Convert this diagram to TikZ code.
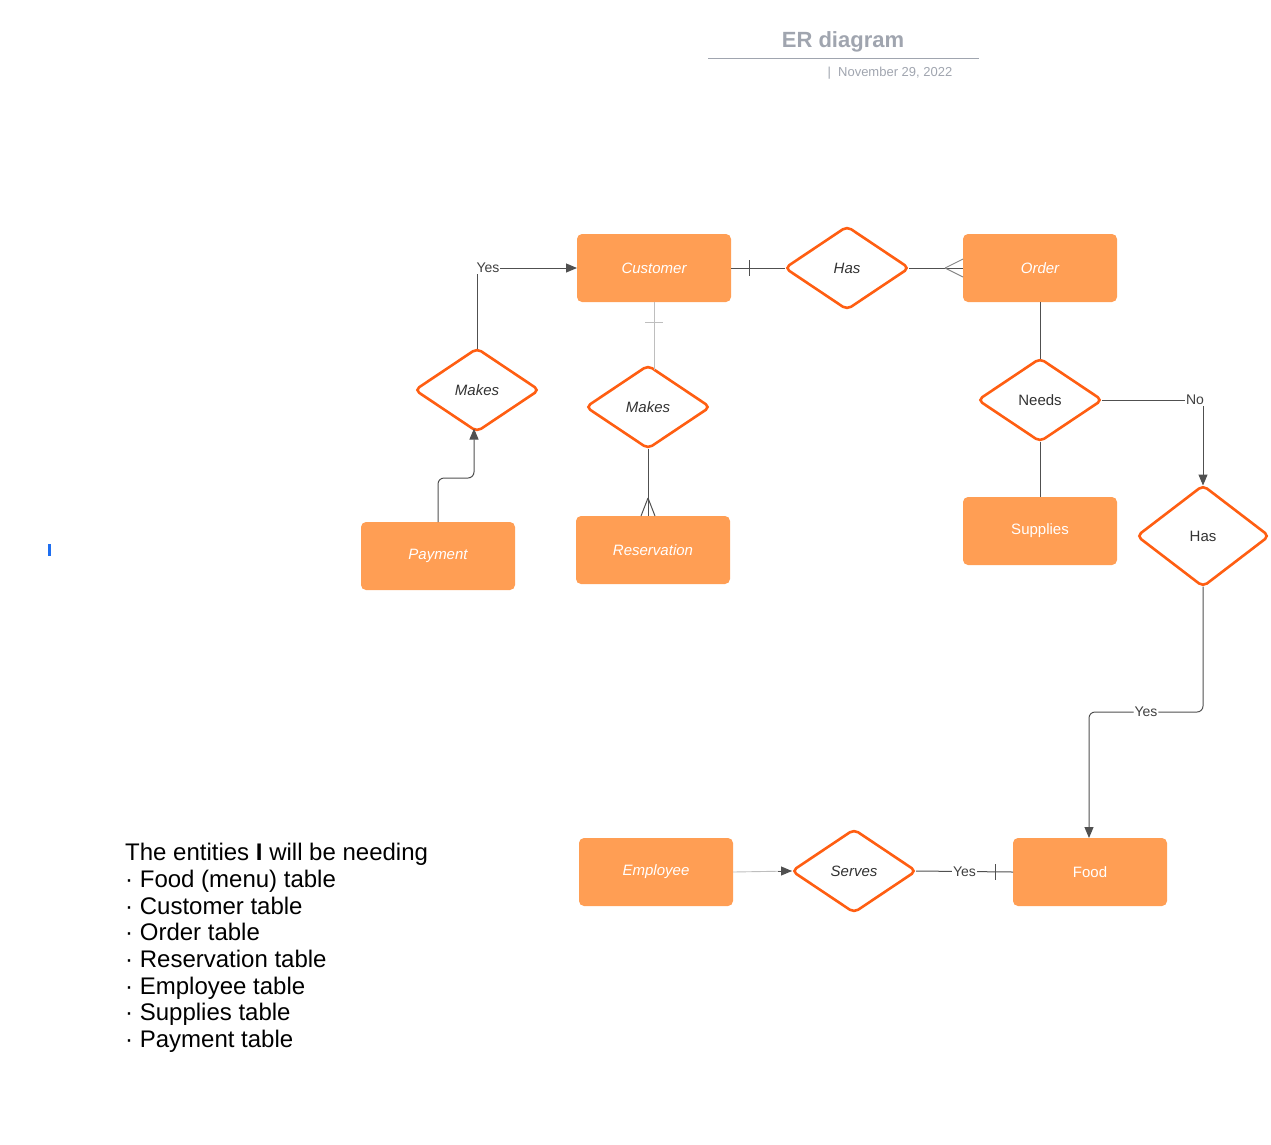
\documentclass[tikz,border=0pt]{standalone}
\usepackage{fontspec}
\setmainfont{Liberation Sans}
\usetikzlibrary{arrows.meta,shapes.geometric}
\definecolor{entcol}{RGB}{255,158,84}
\definecolor{relcol}{RGB}{255,94,18}
\definecolor{linecol}{RGB}{80,80,80}
\definecolor{lightcol}{RGB}{190,190,190}
\definecolor{titlecol}{RGB}{160,165,175}
\definecolor{markcol}{RGB}{30,110,240}

\tikzset{
  entity/.style={rectangle, rounded corners=5pt, fill=entcol, minimum width=154pt, minimum height=68pt,
    outer sep=0pt, text=white, font=\fontsize{15}{18}\selectfont},
  relation/.style={diamond, draw=relcol, line width=2.6pt, fill=white, rounded corners=5pt, inner sep=0pt,
    outer sep=0pt, minimum width=124pt, minimum height=83pt, text=black!80, font=\fontsize{15}{18}\selectfont},
  conn/.style={draw=linecol, line width=1pt},
  tip/.style={-{Triangle[length=11pt,width=9pt]}},
  lab/.style={fill=white, inner sep=1pt, text=black!75, font=\fontsize{14}{16}\selectfont}
}

\begin{document}
\begin{tikzpicture}[x=1pt, y=-1pt]
    \useasboundingbox (0,0) rectangle (1271,1144);

    \node[font=\fontsize{22}{26}\selectfont\bfseries, text=titlecol] (title) at (843,42) {ER diagram};
    \draw[titlecol, line width=1pt] (708,58) -- (979,58);
    \node[font=\fontsize{13}{15}\selectfont, text=titlecol, anchor=west] (date) at (824,73) {|\ \ November 29, 2022};
    \fill[markcol] (48,544) rectangle (51,556);

    \node[entity, font=\fontsize{15}{18}\selectfont\itshape] (customer) at (654,268) {Customer};
    \node[entity, font=\fontsize{15}{18}\selectfont\itshape] (order) at (1040,268) {Order};
    \node[entity, font=\fontsize{15}{18}\selectfont\itshape] (payment) at (438,556) {Payment};
    \node[entity, font=\fontsize{15}{18}\selectfont\itshape] (reservation) at (653,550) {Reservation};
    \node[entity] (supplies) at (1040,531) {Supplies};
    \node[entity, font=\fontsize{15}{18}\selectfont\itshape] (employee) at (656,872) {Employee};
    \node[entity] (food) at (1090,872) {Food};

    \node[relation, font=\fontsize{15}{18}\selectfont\itshape] (has) at (847,268) {Has};
    \node[relation, font=\fontsize{15}{18}\selectfont\itshape] (makesa) at (477,390) {Makes};
    \node[relation, font=\fontsize{15}{18}\selectfont\itshape] (makesb) at (648,407) {Makes};
    \node[relation] (needs) at (1040,400) {Needs};
    \node[relation, minimum width=132pt, minimum height=101pt] (hasb) at (1203,536) {Has};
    \node[relation, font=\fontsize{15}{18}\selectfont\itshape] (serves) at (854,871) {Serves};

    \draw[conn, tip] (makesa.north) |- (customer.west) node[lab, pos=0.5, xshift=11pt] {Yes};
    \draw[conn, tip, rounded corners=6pt] (payment.north) -- ++(0,-44) -| ([xshift=-3pt,yshift=3pt]makesa.south);

    \draw[draw=lightcol, line width=0.9pt] (customer.south) -- ([yshift=-4pt]customer.south |- makesb.north);
    \draw[draw=lightcol, line width=0.9pt] ([yshift=-20pt]customer.south) ++(-9,0) -- ++(18,0);
    \draw[conn] (makesb.south) -- (makesb.south |- reservation.north);
    \draw[conn] ([yshift=18pt]reservation.north -| makesb.south) -- ++(-7,18);
    \draw[conn] ([yshift=18pt]reservation.north -| makesb.south) -- ++(7,18);

    \draw[conn] (customer.east) -- (has.west);
    \draw[conn] ([xshift=18pt]customer.east) ++(0,-8) -- ++(0,16);
    \draw[conn] (has.east) -- (order.west);
    \draw[draw=linecol!70, line width=0.9pt] ([xshift=-18pt]order.west) -- ++(18,-9);
    \draw[draw=linecol!70, line width=0.9pt] ([xshift=-18pt]order.west) -- ++(18,9);

    \draw[conn] (order.south) -- (needs.north);
    \draw[conn] (needs.south) -- (supplies.north);
    \draw[conn, tip] (needs.east) -| (hasb.north) node[lab, pos=0.5, xshift=-8pt] {No};

    \coordinate (yesbend) at (1146,712);
    \draw[conn, tip, rounded corners=6pt] (hasb.south) |- (yesbend) node[lab] {Yes} -| ([xshift=-1pt]food.north);

    \draw[draw=lightcol, line width=0.9pt] (employee.east) -- (serves.west);
    \draw[conn, tip] ([xshift=-14pt]serves.west) -- (serves.west);
    \draw[conn] (serves.east) -- (food.west) node[lab, pos=0.5] {Yes};
    \draw[conn] ([xshift=-18pt]food.west) ++(0,-8) -- ++(0,16);

    \node[anchor=north west, align=left, inner sep=0pt, font=\fontsize{24}{26.7}\selectfont] (entities) at (125,843)
      {The entities \textbf{I} will be needing\\
       · Food (menu) table\\
       · Customer table\\
       · Order table\\
       · Reservation table\\
       · Employee table\\
       · Supplies table\\
       · Payment table};
\end{tikzpicture}
\end{document}
